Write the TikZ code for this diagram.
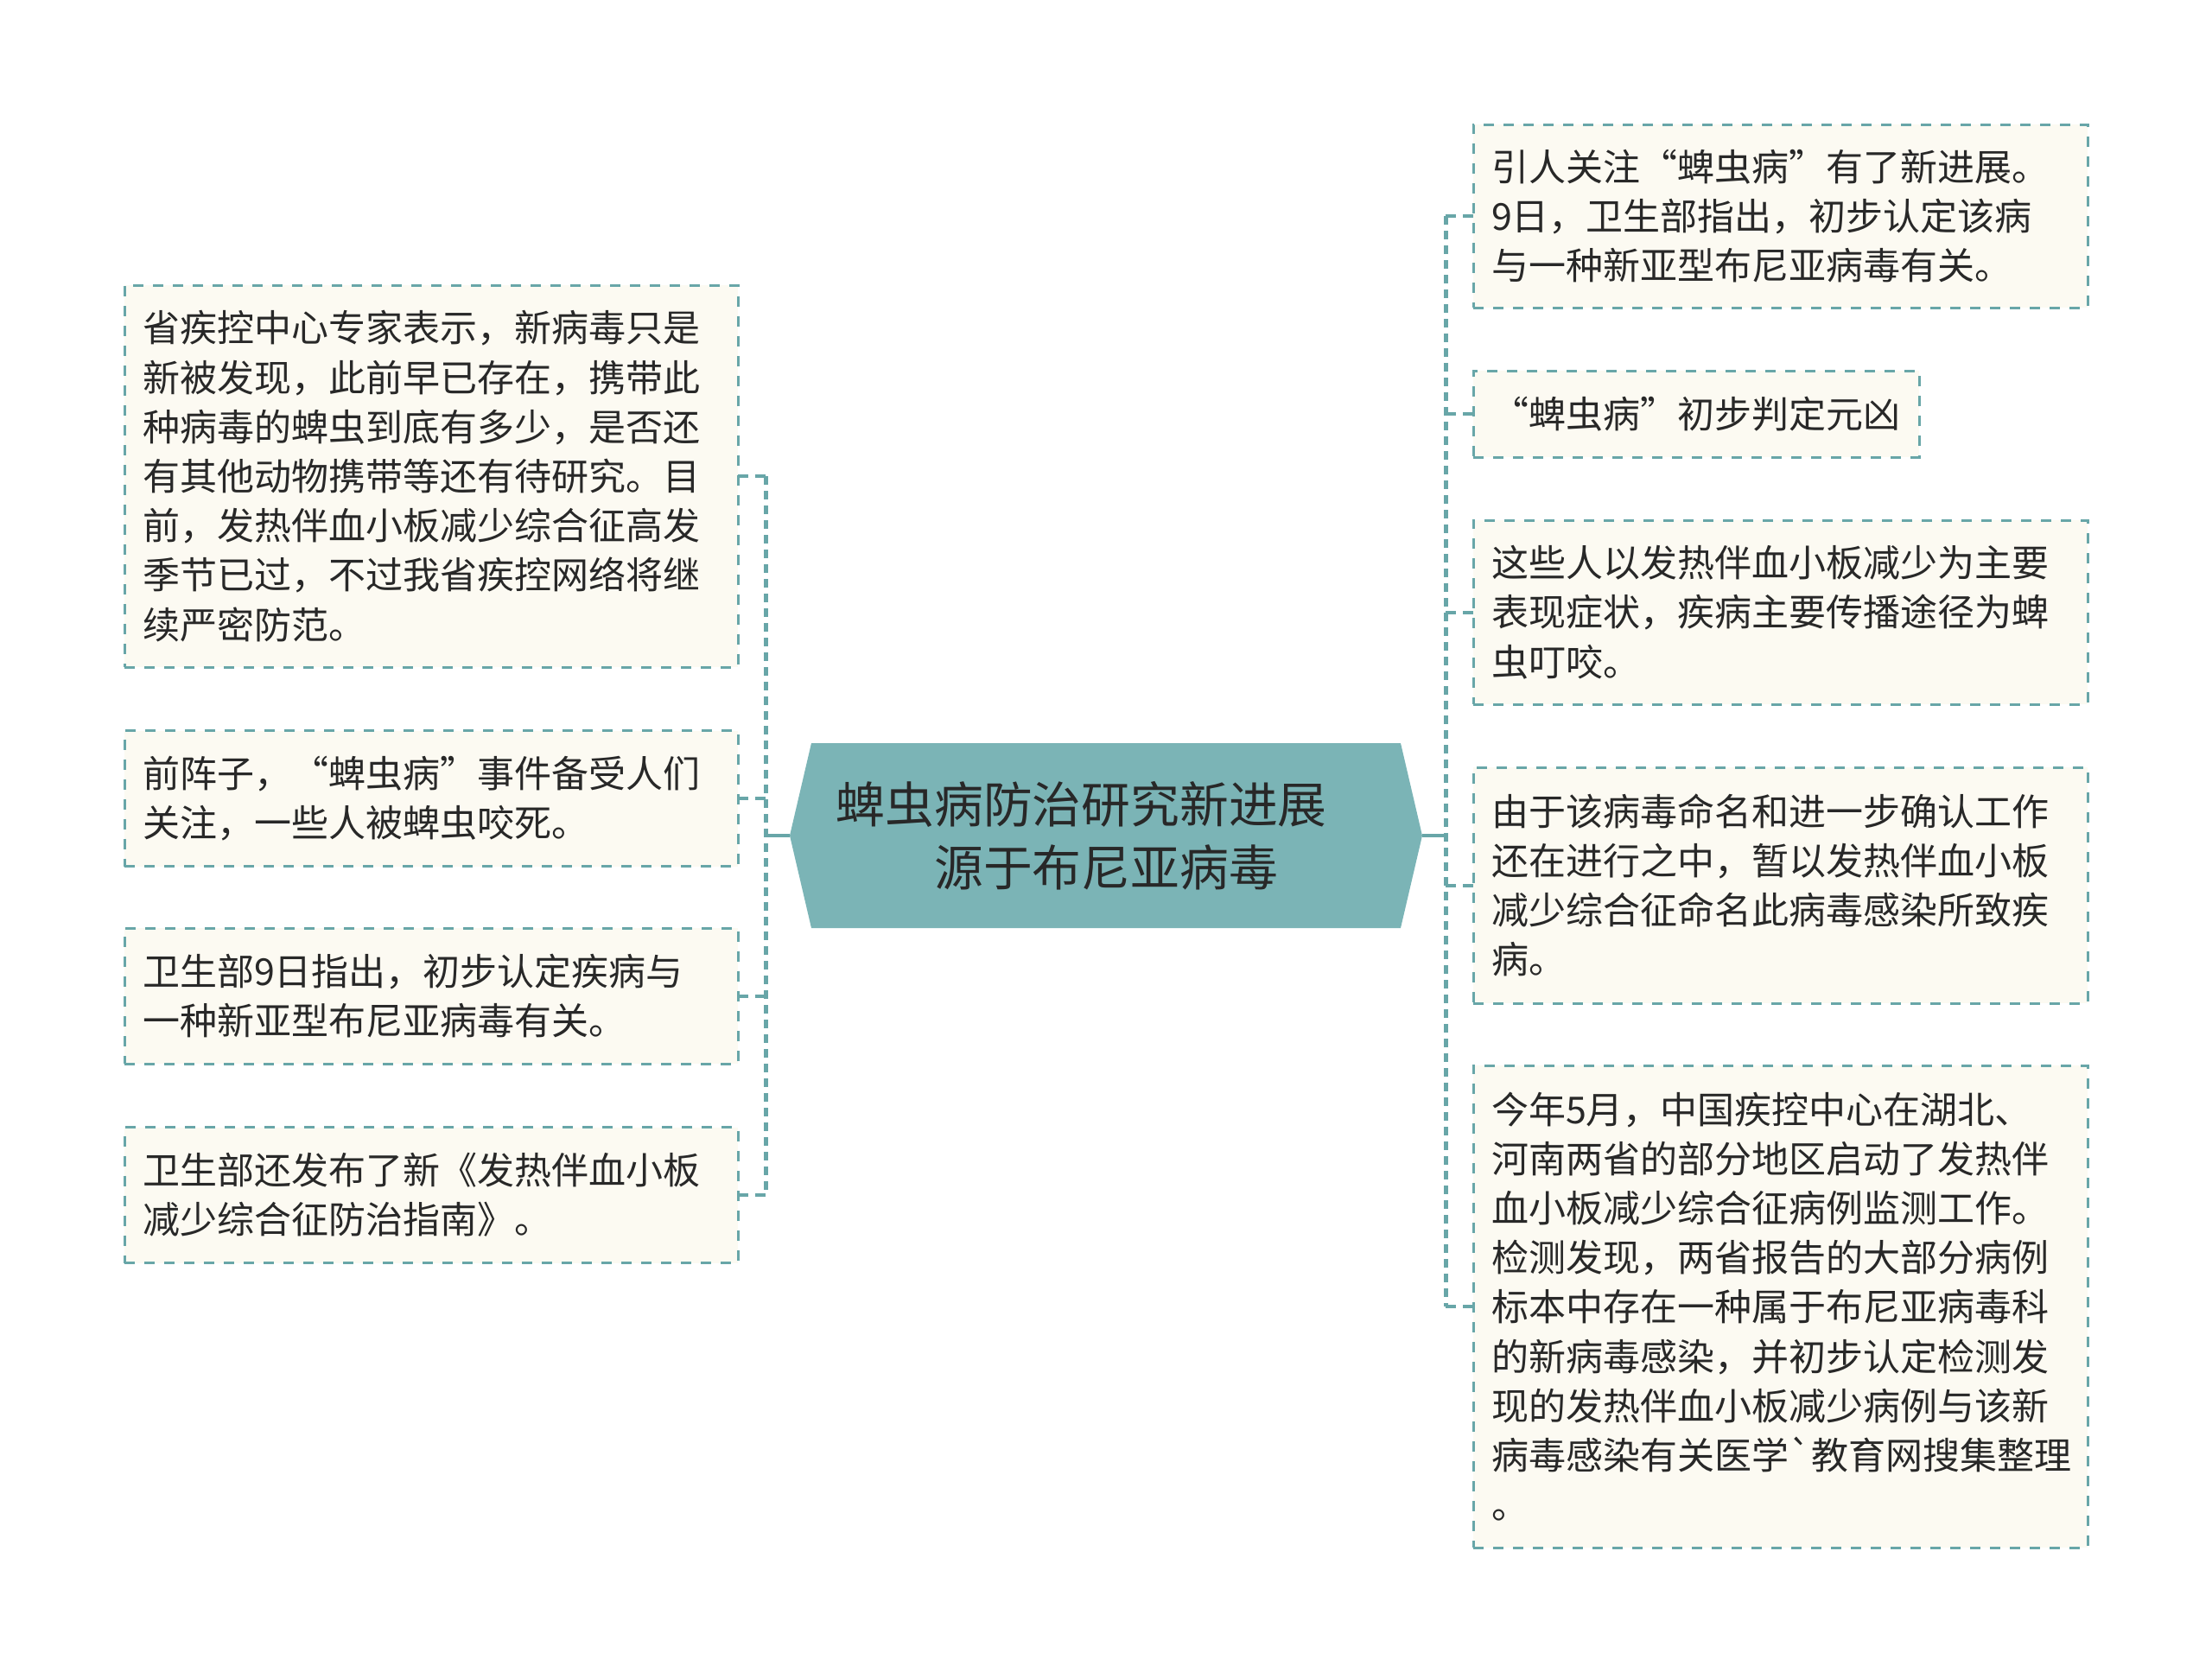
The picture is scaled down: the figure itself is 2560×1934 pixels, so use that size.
\documentclass[tikz,border=0pt]{standalone}
\usepackage{fontspec}
\newfontfamily\cnfont[Ligatures=ResetAll]{Noto Sans CJK SC}
\definecolor{linkcol}{RGB}{104,166,168}
\definecolor{hubcol}{RGB}{123,180,182}
\definecolor{leafcol}{RGB}{252,250,242}
\definecolor{inkcol}{RGB}{40,40,40}
\tikzset{
  leaf/.style={draw=linkcol, fill=leafcol, line width=1.5pt, dash pattern=on 6pt off 5.5pt,
    inner xsep=10.5pt, inner ysep=0pt, outer sep=0pt, text width=334pt, align=left,
    text=inkcol, font=\cnfont\fontsize{21.5}{28.6}\selectfont},
  hub/.style={minimum width=366pt, minimum height=107pt, inner sep=0pt, outer sep=0pt,
    align=center, text=inkcol, font=\cnfont\fontsize{28.4}{36.6}\selectfont},
  trunk/.style={draw=linkcol, line width=2.5pt, dash pattern=on 5pt off 3.5pt},
  twig/.style={draw=linkcol, line width=2pt, dash pattern=on 6pt off 4pt},
  stem/.style={draw=linkcol, line width=2pt},
}
\begin{document}
\begin{tikzpicture}[x=0.5pt, y=-0.5pt]
  \useasboundingbox (0,0) rectangle (2560,1934);
  % centre
  \fill[hubcol] (914,967) -- (939,860) -- (1621,860) -- (1646,967) -- (1621,1074) -- (939,1074) -- cycle;
  \node[hub] (hub) at (1280,967) {蜱虫病防治研究新进展\makebox[1em]{}\\源于布尼亚病毒};
  % left side
  \node[leaf, minimum height=221pt] (l1) at (499,551) {省疾控中心专家表示，新病毒只是\\
    新被发现，此前早已存在，携带此\\
    种病毒的蜱虫到底有多少，是否还\\
    有其他动物携带等还有待研究。目\\
    前，发热伴血小板减少综合征高发\\
    季节已过，不过我省疾控网络将继\\
    续严密防范。};
  \node[leaf, minimum height=78.5pt] (l2) at (499,924) {前阵子，“蜱虫病”事件备受人们\\
    关注，一些人被蜱虫咬死。};
  \node[leaf, minimum height=78.5pt] (l3) at (499,1152.5) {卫生部9日指出，初步认定疾病与\\
    一种新亚型布尼亚病毒有关。};
  \node[leaf, minimum height=78.5pt] (l4) at (499,1383) {卫生部还发布了新《发热伴血小板\\
    减少综合征防治指南》。};
  % right side
  \node[leaf, text width=334.5pt, minimum height=106pt] (r1) at (2060.5,250) {引人关注“蜱虫病”有了新进展。\\
    9日，卫生部指出，初步认定该病\\
    与一种新亚型布尼亚病毒有关。};
  \node[leaf, text width=237pt, minimum height=50pt] (r2) at (1963,479) {“蜱虫病”初步判定元凶};
  \node[leaf, text width=334.5pt, minimum height=106.5pt] (r3) at (2060.5,708.5) {这些人以发热伴血小板减少为主要\\
    表现症状，疾病主要传播途径为蜱\\
    虫叮咬。};
  \node[leaf, text width=334.5pt, minimum height=136.5pt] (r4) at (2060.5,1024.5) {由于该病毒命名和进一步确认工作\\
    还在进行之中，暂以发热伴血小板\\
    减少综合征命名此病毒感染所致疾\\
    病。};
  \node[leaf, text width=334.5pt, minimum height=279pt] (r5) at (2060.5,1512) {今年5月，中国疾控中心在湖北、\\
    河南两省的部分地区启动了发热伴\\
    血小板减少综合征病例监测工作。\\
    检测发现，两省报告的大部分病例\\
    标本中存在一种属于布尼亚病毒科\\
    的新病毒感染，并初步认定检测发\\
    现的发热伴血小板减少病例与该新\\
    病毒感染有关医学`教育网搜集整理\\
    。};
  % links
  \coordinate (lt) at (886,967);
  \coordinate (rt) at (1673,967);
  \draw[stem] (hub.west) -- (lt);
  \draw[stem] (hub.east) -- (rt);
  \draw[trunk] (l1.east -| lt) -- (l4.east -| lt);
  \draw[trunk] (r1.west -| rt) -- (r5.west -| rt);
  \foreach \n in {l1,l2,l3,l4}
    \draw[twig] (\n.east -| lt) -- (\n.east);
  \foreach \n in {r1,r2,r3,r4,r5}
    \draw[twig] (\n.west -| rt) -- (\n.west);
\end{tikzpicture}
\end{document}
